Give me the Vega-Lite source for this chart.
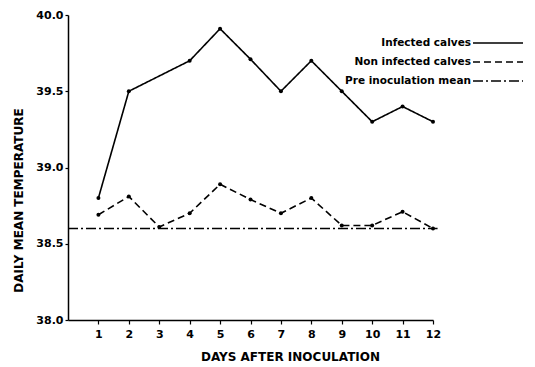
{
  "$schema": "https://vega.github.io/schema/vega-lite/v6.json",
  "width": 365,
  "height": 305,
  "autosize": {"type": "none"},
  "padding": {"left": 68, "top": 15, "right": 102, "bottom": 47},
  "background": "white",
  "config": {
    "view": {"stroke": null},
    "font": "DejaVu Sans",
    "axis": {
      "domainColor": "black", "tickColor": "black", "labelColor": "black", "titleColor": "black",
      "grid": false, "labelFont": "DejaVu Sans", "labelFontWeight": "bold", "labelFontSize": 11,
      "labelOverlap": false, "labelFlush": false, "labelBound": false,
      "titleFont": "DejaVu Sans", "titleFontWeight": "bold", "titleFontSize": 12, "domainWidth": 1.5, "tickWidth": 1.2
    }
  },
  "data": {"name": "series"},
  "datasets": {
    "series": [
      {"series": "Infected calves", "day": 1, "temp": 38.8},
      {"series": "Infected calves", "day": 2, "temp": 39.5},
      {"series": "Infected calves", "day": 4, "temp": 39.7},
      {"series": "Infected calves", "day": 5, "temp": 39.91},
      {"series": "Infected calves", "day": 6, "temp": 39.71},
      {"series": "Infected calves", "day": 7, "temp": 39.5},
      {"series": "Infected calves", "day": 8, "temp": 39.7},
      {"series": "Infected calves", "day": 9, "temp": 39.5},
      {"series": "Infected calves", "day": 10, "temp": 39.3},
      {"series": "Infected calves", "day": 11, "temp": 39.4},
      {"series": "Infected calves", "day": 12, "temp": 39.3},
      {"series": "Non infected calves", "day": 1, "temp": 38.69},
      {"series": "Non infected calves", "day": 2, "temp": 38.81},
      {"series": "Non infected calves", "day": 3, "temp": 38.61},
      {"series": "Non infected calves", "day": 4, "temp": 38.7},
      {"series": "Non infected calves", "day": 5, "temp": 38.89},
      {"series": "Non infected calves", "day": 6, "temp": 38.79},
      {"series": "Non infected calves", "day": 7, "temp": 38.7},
      {"series": "Non infected calves", "day": 8, "temp": 38.8},
      {"series": "Non infected calves", "day": 9, "temp": 38.62},
      {"series": "Non infected calves", "day": 10, "temp": 38.62},
      {"series": "Non infected calves", "day": 11, "temp": 38.71},
      {"series": "Non infected calves", "day": 12, "temp": 38.6},
      {"series": "Pre inoculation mean", "day": 0, "temp": 38.6},
      {"series": "Pre inoculation mean", "day": 12.15, "temp": 38.6}
    ]
  },
  "encoding": {
    "x": {
      "field": "day", "type": "quantitative",
      "scale": {"domain": [0, 12], "nice": false, "zero": false},
      "axis": {
        "values": [1, 2, 3, 4, 5, 6, 7, 8, 9, 10, 11, 12], "labelOverlap": false, "labelSeparation": 0,
        "tickSize": 4, "labelPadding": 4,
        "title": "DAYS AFTER INOCULATION", "titleX": 222, "titleY": 40, "titleBaseline": "alphabetic", "titleAnchor": "middle", "titleAlign": "center"
      }
    },
    "y": {
      "field": "temp", "type": "quantitative",
      "scale": {"domain": [38, 40], "nice": false, "zero": false},
      "axis": {
        "values": [38, 38.5, 39, 39.5, 40], "format": ".1f", "labelOverlap": false,
        "tickSize": 3, "labelPadding": 2,
        "title": "DAILY MEAN TEMPERATURE", "titleX": -50, "titleY": 185, "titleAngle": -90, "titleBaseline": "middle", "titleAlign": "center"
      }
    }
  },
  "layer": [
    {
      "mark": {"type": "line", "color": "black", "strokeWidth": 1.6},
      "encoding": {
        "strokeDash": {
          "field": "series", "type": "nominal",
          "scale": {
            "domain": ["Infected calves", "Non infected calves", "Pre inoculation mean"],
            "range": [[1, 0], [7, 4], [10, 3, 2, 3]]
          },
          "legend": {
            "orient": "none", "legendX": 424, "legendY": 22, "title": null,
            "symbolType": "M-5,0H5", "symbolSize": 100, "symbolStrokeWidth": 1.5, "symbolStrokeColor": "black",
            "labelAlign": "right", "labelOffset": -33, "labelFontSize": 10.5, "labelFont": "DejaVu Sans",
            "labelFontWeight": "bold", "labelColor": "black", "rowPadding": 7
          }
        }
      }
    },
    {
      "transform": [{"filter": "datum.series !== 'Pre inoculation mean'"}],
      "mark": {"type": "point", "filled": true, "color": "black", "size": 16, "opacity": 1},
      "encoding": {}
    }
  ]
}
